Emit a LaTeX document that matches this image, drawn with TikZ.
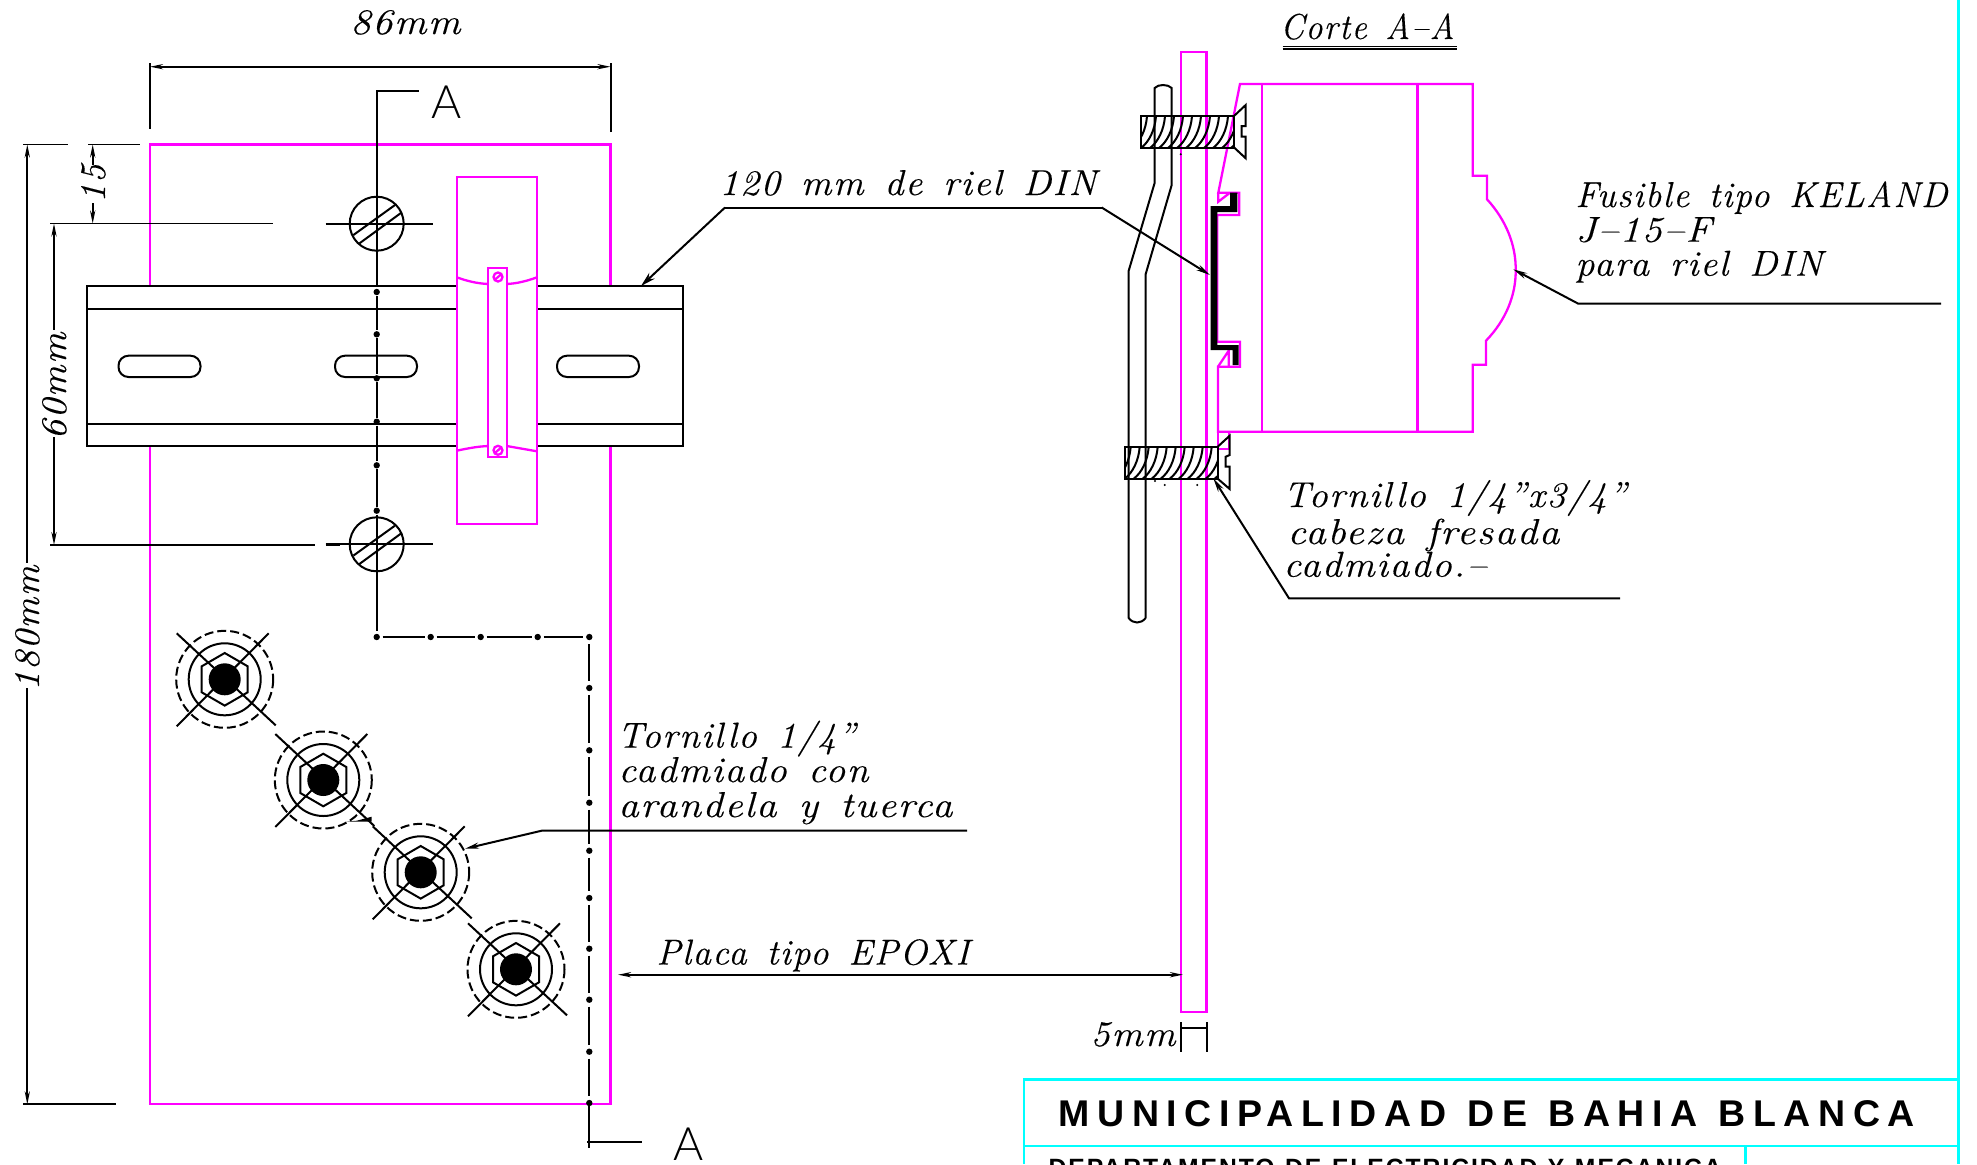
\documentclass[tikz,border=0pt]{standalone}
\usepackage{fontspec}
\usetikzlibrary{arrows.meta}
\newfontfamily\cadf[LetterSpace=4,WordSpace=1.4,FakeBold=0.25]{Latin Modern Roman}
\newfontfamily\ttlf[LetterSpace=20,WordSpace=1.2]{Liberation Sans}
\newfontfamily\subf[LetterSpace=8,WordSpace=1.2]{Liberation Sans}
\newfontfamily\secf[UprightFont=* Light]{Lato}
\newcommand{\fitw}[2]{\resizebox{#1pt}{\height}{#2}}
\definecolor{cadm}{RGB}{255,0,255}
\definecolor{cadc}{RGB}{0,255,255}
\tikzset{
  ln/.style={black,line width=1pt,line join=miter},
  thn/.style={black,line width=.9pt},
  mg/.style={draw=cadm,line width=1.15pt},
  cy/.style={draw=cadc,line width=1.3pt},
  lab/.style={inner sep=0pt,anchor=base west,font=\fontsize{18}{20}\selectfont\cadf\itshape},
  vlab/.style={lab,rotate=90},
  sec/.style={inner sep=0pt,font=\fontsize{23}{26}\selectfont\secf},
  tip/.style={-{Stealth[length=7pt,width=3pt]}},
  bigtip/.style={-{Stealth[length=7.5pt,width=4pt]}},
  dimtip/.style={{Stealth[length=6.5pt,width=2.6pt]}-},
  dimend/.style={-{Stealth[length=6.5pt,width=2.6pt]}},
  dimboth/.style={{Stealth[length=6.5pt,width=2.6pt]}-{Stealth[length=6.5pt,width=2.6pt]}},
  dot/.style={fill=black,draw=none},
}
\begin{document}
\begin{tikzpicture}[x=0.5pt,y=-0.5pt]
\useasboundingbox (0,0) rectangle (1977,1164);
\clip (0,0) rectangle (1977,1164);

%----------- title block
\draw[cy] (1958.5,0) -- (1958.5,1164);
\draw[cy] (1024,1164) -- (1024,1079.5) -- (1958.5,1079.5);
\draw[cy] (1024,1146) -- (1958.5,1146);
\draw[cy] (1745.7,1146) -- (1745.7,1164);
\node[inner sep=0pt,anchor=base west,font=\fontsize{18.6}{20}\selectfont\ttlf\bfseries] (title) at (1058.5,1126) {\fitw{428}{MUNICIPALIDAD DE BAHIA BLANCA}};
\node[inner sep=0pt,anchor=base west,font=\fontsize{12.5}{14}\selectfont\subf\bfseries] (dept) at (1048.3,1176.5) {\fitw{336.5}{DEPARTAMENTO DE ELECTRICIDAD Y MECANICA}};

%----------- front view: plate
\draw[mg] (150,286) -- (150,144.5) -- (610.5,144.5) -- (610.5,286);
\draw[mg] (150,445.7) -- (150,1104.3) -- (610.5,1104.3) -- (610.5,445.7);
% rail
\draw[ln] (456.7,286) -- (86.7,286) -- (86.7,445.7) -- (456.7,445.7);
\draw[ln] (536.7,286) -- (683,286) -- (683,445.7) -- (536.7,445.7);
\draw[ln] (86.7,309) -- (456.7,309) (86.7,423.7) -- (456.7,423.7);
\draw[ln] (536.7,309) -- (683,309) (536.7,423.7) -- (683,423.7);
\draw[ln,rounded corners=5pt] (118.5,355.7) rectangle (200.5,377);
\draw[ln,rounded corners=5pt] (335,355.7) rectangle (417,377);
\draw[ln,rounded corners=5pt] (557,355.7) rectangle (639,377);
% clip
\draw[mg] (456.7,176.7) rectangle (537,524);
\draw[mg] (488.3,267.7) rectangle (506.7,457);
\draw[mg] (456.7,277.3) .. controls (467,281) and (477,283.5) .. (488.3,284);
\draw[mg] (506.7,284) .. controls (517,283.5) and (527,281) .. (537,277.3);
\draw[mg] (456.7,450.7) .. controls (467,448.5) and (477,446.5) .. (488.3,446);
\draw[mg] (506.7,446) -- (537,451.3);
\foreach \sy in {277,450.3} {
  \draw[mg] (498,\sy) circle (4.5);
  \draw[mg] (494.5,\sy+3) -- (501.5,\sy-3);
}
% slotted screw heads
\foreach \cy in {223.7,544.3} {
  \begin{scope}[shift={(376.7,\cy)}]
    \draw[ln] (0,0) circle (27);
    \draw[ln] (-51,0) -- (56.3,0);
    \draw[ln] (-23.3,11.3) -- (18.3,-18.7) (-17.3,19.7) -- (25,-11.3);
  \end{scope}
}
% section line
\draw[ln] (418.7,90.7) -- (376.7,90.7) -- (376.7,286);
\foreach \ya/\yb in {292/334.3,334.3/378.3,378.3/421.7,421.7/465.3,465.3/510.7} {
  \draw[ln] (376.7,\ya+4) -- (376.7,\yb-4);
}
\draw[ln] (376.7,514.7) -- (376.7,631);
\foreach \ya in {292,334.3,378.3,421.7,465.3,510.7,637} { \fill[dot] (376.7,\ya) circle (3.2); }
\foreach \xa/\xb in {376.7/430.7,430.7/480.7,480.7/537.7,537.7/589.3} {
  \draw[ln] (\xa+6,637) -- (\xb-6,637);
}
\foreach \xa in {430.7,480.7,537.7,589.3} { \fill[dot] (\xa,637) circle (3.2); }
\foreach \ya/\yb in {637/688,688/750.3,750.3/802.7,802.7/850.7,850.7/898,898/948.7,948.7/999.7,999.7/1051.7,1051.7/1103} {
  \draw[ln] (589.3,\ya+7) -- (589.3,\yb-7);
}
\foreach \ya in {688,750.3,802.7,850.7,898,948.7,999.7,1051.7,1103} { \fill[dot] (589.3,\ya) circle (3.2); }
\draw[ln] (589.3,1103) -- (589.3,1147.7);
\draw[ln] (587,1142.3) -- (642,1142.3);
\node[sec,anchor=base] (secA) at (447,118) {A};
\node[sec,anchor=base] (secB) at (689,1160.7) {A};

% bolts
\foreach \cx/\cy in {224.7/679.3,323.3/780,420.7/872.3,516/969.3} {
  \begin{scope}[shift={(\cx,\cy)}]
    \draw[ln,dash pattern=on 4.5pt off 2pt] (0,0) circle (48.5);
    \draw[ln] (0,0) circle (36);
    \draw[ln] (0,-26.3) -- (23,-13) -- (23,13) -- (0,26.3) -- (-23,13) -- (-23,-13) -- cycle;
    \draw[ln] (-48,-46) -- (51,46) (-48,47) -- (44,-46);
    \fill[dot] (0,0) circle (16);
  \end{scope}
}
\fill[dot] (345,821.7) -- (371.7,821.7) -- (371.7,816.7) -- (356.7,820.7) -- cycle;

% dimensions left
\draw[ln] (150,128.5) -- (150,63);
\draw[ln] (610.5,132) -- (610.5,63);
\draw[thn,dimboth] (150,66.7) -- (610.5,66.7);
\node[lab] (d86) at (350,34) {\fitw{55}{86mm}};
\draw[thn] (23,144.5) -- (68,144.5) (88,144.5) -- (140,144.5);
\draw[thn] (50,223.5) -- (273,223.5);
\draw[thn] (50,545) -- (315,545);
\draw[thn] (325.7,545) -- (340,545);
\draw[thn] (23,1104.3) -- (116,1104.3);
\node[vlab] (d180) at (39,691) {\fitw{62.5}{180mm}};
\node[vlab] (d60) at (66,440) {\fitw{53.5}{60mm}};
\node[vlab] (d15) at (105,203) {\fitw{19}{15}};
\draw[thn,dimtip] (27.3,144.5) -- (27.3,563);
\draw[thn,dimend] (27.3,688) -- (27.3,1104.3);
\draw[thn,dimtip] (54,223.5) -- (54,330);
\draw[thn,dimend] (54,437) -- (54,545);
\draw[thn,dimtip] (92.7,144.5) -- (92.7,165);
\draw[thn,dimend] (92.7,203) -- (92.7,223.5);

%----------- section view
\draw[mg] (1181,52) rectangle (1206.5,1012.3);
\draw[mg] (1240,84) -- (1472.7,84) -- (1472.7,175.7) -- (1487,175.7) -- (1487,199.3)
  .. controls (1506,220) and (1516,245) .. (1515.7,270)
  .. controls (1516,295) and (1506,320) .. (1486,340.7)
  -- (1486,364.7) -- (1472.7,364.7) -- (1472.7,431.7) -- (1218,431.7) -- (1218,366.7)
  -- (1240,366.7) -- (1240,341.7) -- (1217.3,341.7) -- (1217.3,215) -- (1239.3,215)
  -- (1239.3,192.7) -- (1218.3,192.7) -- cycle;
\draw[mg] (1218.3,192.7) -- (1218.3,201.7) -- (1230,192.7);
\draw[mg] (1218,366.7) -- (1228.7,350.7) -- (1228.7,366.7);
\draw[mg] (1262.3,84) -- (1262.3,431.7);
\draw[mg,line width=1.7pt] (1417.5,84) -- (1417.5,431.7);
\draw[mg] (1218,431.7) -- (1218,449.3) -- (1228.7,449.3) -- (1228.7,431.7);
% rail profile
\fill[black] (1210.7,206) -- (1230,206) -- (1230,192.7) -- (1237.3,192.7) -- (1237.3,212)
  -- (1217.3,212) -- (1217.3,345) -- (1238.7,345) -- (1238.7,365) -- (1232.7,365)
  -- (1232.7,350) -- (1210.7,350) -- cycle;
% bent bracket
\draw[ln] (1145.7,618) -- (1145.7,274) -- (1171.7,185) -- (1171.7,88)
  .. controls (1168,84) and (1158,84) .. (1154.7,88)
  -- (1154.7,182.7) -- (1128.7,270.7) -- (1128.7,618)
  .. controls (1133,624) and (1141,624) .. (1145.7,618);
% screws
\foreach \sx/\sy/\sw in {1141/116/93.3,1124.7/446.7/93} {
  \begin{scope}
    \clip (\sx,\sy) rectangle (\sx+\sw,\sy+32);
    \foreach \k in {-3,...,12} {
      \draw[ln] (\sx+\k*9,\sy+32) .. controls (\sx+\k*9+8,\sy+26) and (\sx+\k*9+14,\sy+14) .. (\sx+\k*9+15,\sy);
    }
  \end{scope}
  \draw[ln] (\sx,\sy) rectangle (\sx+\sw,\sy+32);
}
\draw[ln] (1234.3,115.7) -- (1245.7,105) -- (1245.7,126) -- (1241.7,126) -- (1241.7,136.7) -- (1245.7,136.7) -- (1245.7,158.3) -- (1234.3,147.7);
\draw[ln] (1217.7,446.7) -- (1229.7,435.7) -- (1229.7,455) -- (1225.7,456.7) -- (1225.7,466.7) -- (1229.7,466.7) -- (1229.7,489) -- (1217.7,478.7);
\foreach \px/\py in {1180.7/154.3,1155/481,1164.7/485,1197.3/485} { \fill[dot] (\px,\py) circle (1.1); }
% section title
\node[lab] (corte) at (1280,39) {\fitw{87}{Corte A–A}};
\draw[ln,line width=.9pt] (1282.7,46.5) -- (1456.7,46.5) (1282.7,49) -- (1456.7,49);
% 5mm
\draw[ln] (1180.7,1022) -- (1180.7,1052) (1207,1022) -- (1207,1052);
\draw[thn] (1180.7,1027.7) -- (1207,1027.7);
\node[lab] (d5) at (1090,1046) {\fitw{42.5}{5mm}};

% labels and leaders
\node[lab] (din) at (719,195) {\fitw{188.5}{120 mm de riel DIN}};
\coordinate (dinA) at (641,286);
\coordinate (dinB) at (1210,275);
\draw[ln,bigtip] (725,207.5) -- (dinA);
\draw[ln] (725,207.5) -- (1101.7,207.5);
\draw[ln,tip] (1101.7,207.5) -- (dinB);

\node[lab] (fus1) at (1575,207) {\fitw{186}{Fusible tipo KELAND}};
\node[lab] (fus2) at (1575,241.7) {\fitw{68}{J–15–F}};
\node[lab] (fus3) at (1575,275.7) {\fitw{123.5}{para riel DIN}};
\coordinate (fusT) at (1513.3,269.3);
\draw[ln,tip] (1941,303.7) -- (1578.3,303.7) -- (fusT);

\node[lab] (tor1) at (1283,507) {\fitw{171.5}{Tornillo 1/4”x3/4”}};
\node[lab] (tor2) at (1287,544) {\fitw{136}{cabeza fresada}};
\node[lab] (tor3) at (1283,576.7) {\fitw{101.5}{cadmiado.–}};
\coordinate (torT) at (1213.3,478.3);
\draw[ln,tip] (1620,598.3) -- (1289,598.3) -- (torT);

\node[lab] (bol1) at (617,747.6) {\fitw{119}{Tornillo 1/4”}};
\node[lab] (bol2) at (618,782) {\fitw{125}{cadmiado con}};
\node[lab] (bol3) at (618,817) {\fitw{167}{arandela y tuerca}};
\coordinate (bolT) at (465,848.7);
\draw[ln,tip] (967,830.7) -- (541.7,830.7) -- (bolT);

\node[lab] (pla) at (656,964.5) {\fitw{156.5}{Placa tipo EPOXI}};
\coordinate (plaA) at (618,974.7);
\coordinate (plaB) at (1183,974.7);
\draw[ln,dimboth] (plaA) -- (plaB);
\end{tikzpicture}
\end{document}
